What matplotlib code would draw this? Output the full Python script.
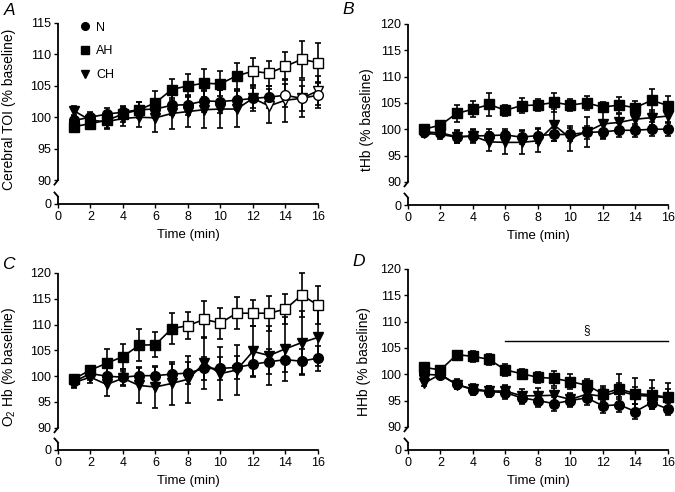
import numpy as np
import matplotlib
matplotlib.use("Agg")
import matplotlib.pyplot as plt
from matplotlib.lines import Line2D

plt.rcParams['font.family'] = ['Liberation Sans', 'DejaVu Sans']
plt.rcParams['mathtext.fontset'] = 'custom'
plt.rcParams['mathtext.rm'] = 'Liberation Sans'

time = list(range(1, 17))

# Panel A: Cerebral TOI
A_N = [99.5, 100.0, 100.5, 100.8, 101.2, 101.3, 101.9, 102.0, 102.6, 102.5, 102.7, 103.0, 103.2, 103.5, 103.0, 103.5]
A_N_err = [0.8, 0.8, 0.9, 1.0, 1.2, 1.5, 1.6, 1.6, 1.7, 1.8, 1.6, 1.6, 1.7, 1.8, 2.0, 2.0]
A_AH = [98.5, 99.0, 99.5, 100.5, 101.2, 102.3, 104.4, 105.0, 105.4, 105.3, 106.6, 107.3, 107.0, 108.1, 109.2, 108.7]
A_AH_err = [0.7, 0.7, 1.2, 1.2, 1.3, 1.8, 1.7, 1.8, 2.2, 2.0, 2.1, 2.1, 2.0, 2.2, 2.9, 3.1]
A_CH = [101.0, 99.5, 99.3, 99.8, 100.0, 99.9, 100.6, 100.9, 101.2, 101.3, 101.3, 103.0, 101.8, 102.7, 103.0, 104.2]
A_CH_err = [0.8, 0.9, 1.2, 1.2, 1.5, 2.3, 2.4, 2.5, 2.9, 3.0, 2.8, 2.0, 2.7, 3.4, 2.9, 2.3]

# Panel B: tHb
B_N = [99.5, 99.3, 98.6, 98.7, 98.8, 98.9, 98.5, 98.8, 99.0, 99.0, 99.4, 99.5, 99.8, 99.8, 100.0, 100.0]
B_N_err = [0.6, 0.7, 1.2, 1.2, 1.3, 1.2, 1.3, 1.4, 1.3, 1.3, 1.3, 1.3, 1.3, 1.2, 1.3, 1.3]
B_AH = [100.0, 100.8, 103.0, 103.8, 104.7, 103.6, 104.5, 104.6, 105.1, 104.6, 105.0, 104.2, 104.6, 104.1, 105.5, 104.5]
B_AH_err = [0.6, 0.8, 1.6, 1.5, 2.1, 1.0, 1.5, 1.1, 1.8, 1.2, 1.4, 1.0, 1.5, 1.2, 2.2, 1.8]
B_CH = [99.2, 99.0, 98.5, 98.7, 97.6, 97.5, 97.5, 97.8, 100.8, 98.3, 99.5, 101.0, 101.3, 101.9, 102.2, 102.5]
B_CH_err = [0.6, 0.8, 1.2, 1.4, 1.8, 2.2, 2.2, 2.2, 3.0, 2.4, 2.8, 2.6, 1.5, 1.3, 1.4, 1.3]

# Panel C: O2Hb
C_N = [99.0, 100.5, 100.0, 99.8, 100.1, 100.1, 100.4, 100.6, 101.5, 101.5, 101.7, 102.3, 102.8, 103.2, 102.9, 103.5]
C_N_err = [1.0, 1.3, 1.6, 1.5, 1.6, 1.6, 2.0, 2.2, 2.3, 2.3, 2.3, 2.3, 2.4, 2.4, 2.4, 2.4]
C_AH = [99.5, 101.2, 102.5, 103.8, 106.0, 106.1, 109.2, 109.8, 111.0, 110.3, 112.2, 112.2, 112.2, 113.0, 115.7, 113.8]
C_AH_err = [0.8, 0.8, 2.7, 2.5, 3.1, 2.4, 3.0, 2.6, 3.6, 3.0, 3.1, 2.5, 3.4, 2.9, 4.2, 3.6]
C_CH = [98.8, 99.8, 98.4, 99.6, 98.2, 97.9, 98.6, 99.4, 102.5, 100.5, 101.2, 104.8, 104.0, 105.3, 106.5, 107.5]
C_CH_err = [1.0, 1.2, 2.2, 1.5, 3.3, 4.1, 4.2, 4.5, 5.0, 5.1, 4.8, 5.0, 5.7, 6.2, 6.2, 5.5]

# Panel D: HHb
D_N = [100.0, 99.8, 98.1, 97.0, 96.7, 96.5, 95.5, 95.0, 94.4, 95.0, 95.5, 94.0, 94.2, 92.9, 94.6, 93.4]
D_N_err = [0.6, 0.7, 0.9, 1.0, 1.1, 1.2, 1.2, 1.3, 1.3, 1.2, 1.3, 1.4, 1.4, 1.5, 1.3, 1.2]
D_AH = [101.3, 100.8, 103.7, 103.4, 102.8, 100.8, 100.1, 99.4, 99.2, 98.6, 97.9, 96.3, 97.2, 96.3, 96.1, 95.6]
D_AH_err = [0.7, 0.7, 0.8, 1.1, 1.0, 1.1, 0.8, 1.1, 1.5, 1.5, 1.2, 1.4, 2.8, 3.0, 2.8, 2.7]
D_CH = [98.3, 100.0, 98.0, 97.2, 96.8, 96.8, 95.9, 95.9, 96.0, 95.2, 96.2, 95.8, 96.8, 96.0, 95.8, 95.5]
D_CH_err = [0.6, 0.6, 0.8, 0.9, 1.0, 1.1, 1.3, 1.4, 1.4, 1.2, 1.4, 1.5, 1.6, 1.6, 1.6, 1.7]

# open-marker time points (significance)
A_open = {"N": [14, 15, 16], "AH": [12, 13, 14, 15, 16], "CH": [12, 13, 14, 15, 16]}
B_open = {"N": [], "AH": [], "CH": []}
C_open = {"N": [], "AH": [8, 9, 10, 11, 12, 13, 14, 15, 16], "CH": []}
D_open = {"N": [], "AH": [], "CH": []}

y_labels = ["Cerebral TOI (% baseline)", "tHb (% baseline)", r"O$_2$ Hb (% baseline)", "HHb (% baseline)"]
panel_letters = ["A", "B", "C", "D"]
x_ticks = [0, 2, 4, 6, 8, 10, 12, 14, 16]

FW, FH = 6.75, 4.92
DPI = 100
fig = plt.figure(figsize=(FW, FH), dpi=DPI)

positions = [
    [0.0859, 0.5854, 0.385, 0.368],
    [0.6044, 0.5833, 0.385, 0.368],
    [0.0859, 0.0854, 0.385, 0.3598],
    [0.6044, 0.0854, 0.385, 0.368],
]
tops = [115, 120, 120, 120]
gaps = [3.8, 4.4, 4.3, 4.4]
ylabel_coords = [(-0.16, 0.52), (-0.131, 0.47), (-0.153, 0.47), (-0.142, 0.49)]
letter_coords = [(-0.185, 1.066), (-0.23, 1.08), (-0.19, 1.05), (-0.19, 1.04)]

panels = [
    (A_N, A_N_err, A_AH, A_AH_err, A_CH, A_CH_err, A_open),
    (B_N, B_N_err, B_AH, B_AH_err, B_CH, B_CH_err, B_open),
    (C_N, C_N_err, C_AH, C_AH_err, C_CH, C_CH_err, C_open),
    (D_N, D_N_err, D_AH, D_AH_err, D_CH, D_CH_err, D_open),
]

markers = {"N": ("o", 7.0), "AH": ("s", 6.8), "CH": ("v", 7.5)}


def make_scale(g):
    def fwd(y):
        y = np.asarray(y, dtype=float)
        return np.where(y >= 90, y - 90 + g, y * g / 90.0)

    def inv(s):
        s = np.asarray(s, dtype=float)
        return np.where(s >= g, s + 90 - g, s * 90.0 / g)
    return fwd, inv


tick_fs = 9
xlabel_fs = 9.5
ylabel_fs = 10

for i, ax_pos in enumerate(positions):
    ax = fig.add_axes(ax_pos)
    top, g = tops[i], gaps[i]
    fwd, inv = make_scale(g)
    ax.set_yscale('function', functions=(fwd, inv))
    ax.set_ylim(0, top)
    ax.set_xlim(0, 16)
    yt = [0] + list(range(90, top + 1, 5))
    ax.set_yticks(yt)
    ax.set_yticklabels([str(v) for v in yt])
    ax.set_xticks(x_ticks)
    ax.tick_params(axis='both', direction='out', length=3, width=1.0, labelsize=tick_fs, pad=2)
    ax.minorticks_off()
    for s in ['top', 'right', 'left']:
        ax.spines[s].set_visible(False)
    ax.spines['bottom'].set_linewidth(1.3)

    # broken left spine
    hpx = ax_pos[3] * FH * DPI
    wpx = ax_pos[2] * FW * DPI
    f90 = g / (top - 90 + g)
    fy = lambda px: px / hpx
    fx = lambda px: px / wpx
    lw = 1.3
    ax.plot([0, 0], [f90, 1], transform=ax.transAxes, color='black', lw=lw, clip_on=False, solid_capstyle='butt')
    ax.plot([0, -fx(3.5)], [f90, f90 - fy(4.5)], transform=ax.transAxes, color='black', lw=lw, clip_on=False)
    ax.plot([0, 0], [0, fy(7.5)], transform=ax.transAxes, color='black', lw=lw, clip_on=False, solid_capstyle='butt')
    ax.plot([0, -fx(3.5)], [fy(7.5), fy(11.5)], transform=ax.transAxes, color='black', lw=lw, clip_on=False)

    N, Ne, AH, AHe, CH, CHe, opens = panels[i]
    series = [("CH", CH, CHe), ("N", N, Ne), ("AH", AH, AHe)]
    for name, vals, errs in series:
        ax.errorbar(time, vals, yerr=errs, color='black', lw=1.2, elinewidth=1.2,
                    capsize=2.5, capthick=1.2, clip_on=False, zorder=2)
        mk, ms = markers[name]
        op = opens[name]
        tf = [t for t in time if t not in op]
        vf = [v for t, v in zip(time, vals) if t not in op]
        to = [t for t in time if t in op]
        vo = [v for t, v in zip(time, vals) if t in op]
        ax.plot(tf, vf, linestyle='none', marker=mk, ms=ms, mfc='black', mec='black', clip_on=False, zorder=3)
        if to:
            ax.plot(to, vo, linestyle='none', marker=mk, ms=ms, mfc='white', mec='black', mew=1.0, clip_on=False, zorder=3)

    ax.set_xlabel("Time (min)", fontsize=xlabel_fs, labelpad=4.5)
    ax.set_ylabel(y_labels[i], fontsize=ylabel_fs)
    ax.yaxis.set_label_coords(*ylabel_coords[i])
    lx, ly = letter_coords[i]
    ax.text(lx, ly, panel_letters[i], transform=ax.transAxes, fontsize=12.5,
            style='italic', ha='center', va='center')

    if i == 0:
        handles = [Line2D([], [], linestyle='none', marker=markers[k][0], ms=5.5 if k != "CH" else 6,
                          mfc='black', mec='black') for k in ["N", "AH", "CH"]]
        ax.legend(handles, ["N", "AH", "CH"], loc='upper left', bbox_to_anchor=(0.04, 1.07),
                  frameon=False, handlelength=0.8, handletextpad=0.5, labelspacing=0.95,
                  fontsize=9)
    if i == 3:
        ax.plot([6, 16], [106.3, 106.3], color='black', lw=1.0, clip_on=False)
        ax.text(11, 108.3, "§", ha='center', va='center', fontsize=8.5)

fig.savefig("out.png", dpi=DPI)
